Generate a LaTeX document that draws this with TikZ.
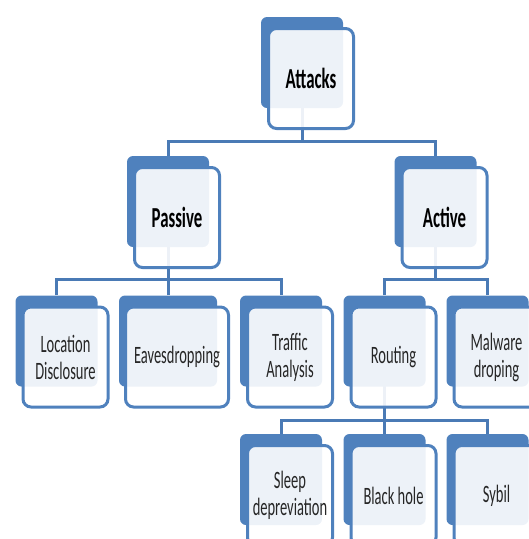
\documentclass[tikz,border=0pt]{standalone}
\usepackage{fontspec}
\newfontfamily\boxfont[FakeStretch=0.58]{Carlito}
\usetikzlibrary{positioning,backgrounds}
\definecolor{boxblue}{HTML}{4F81BD}
\definecolor{lineblue}{HTML}{4A7AB5}

\tikzset{
	backbox/.style={fill=boxblue,rounded corners=6pt,minimum width=82pt,minimum height=91pt,inner sep=0pt},
	frontbox/.style={draw=boxblue,line width=3pt,fill=white,fill opacity=0.9,text opacity=1,rounded corners=8pt,
		minimum width=85pt,minimum height=100pt,inner sep=0pt,align=center,xshift=9pt,yshift=-16pt},
	headtext/.style={font=\boxfont\bfseries\fontsize{29}{31}\selectfont},
	leaftext/.style={font=\boxfont\fontsize{25}{27}\selectfont,text=black!85},
	conn/.style={draw=lineblue,line width=3pt},
}

\begin{document}
\begin{tikzpicture}[x=1pt,y=-1pt]
	\path[use as bounding box,clip] (0,0) rectangle (529,539);

	% level 0 and 1
	\node[backbox] (att-b) at (302,62.5) {};
	\node[frontbox,headtext] (att) at (att-b) {Attacks};
	\node[backbox] (pas-b) at (168,201.5) {};
	\node[frontbox,headtext] (pas) at (pas-b) {Passive};
	\node[backbox] (act-b) at (435.5,201.5) {};
	\node[frontbox,headtext] (act) at (act-b) {Active};

	% level 2
	\node[backbox] (loc-b) at (56.5,341) {};
	\node[frontbox,leaftext] (loc) at (loc-b) {Location\\Disclosure};
	\node[backbox,minimum width=98pt] (eav-b) at (168,341) {};
	\node[frontbox,leaftext,minimum width=103pt] (eav) at (eav-b) {Eavesdropping};
	\node[backbox] (tra-b) at (281,341) {};
	\node[frontbox,leaftext] (tra) at (tra-b) {Traffic\\Analysis};
	\node[backbox] (rou-b) at (384.5,341) {};
	\node[frontbox,leaftext] (rou) at (rou-b) {Routing};
	\node[backbox] (mal-b) at (487.5,341) {};
	\node[frontbox,leaftext] (mal) at (mal-b) {Malware\\droping};

	% level 3
	\node[backbox] (sle-b) at (281,479.5) {};
	\node[frontbox,leaftext] (sle) at (sle-b) {Sleep\\depreviation};
	\node[backbox] (bla-b) at (384.5,479.5) {};
	\node[frontbox,leaftext] (bla) at (bla-b) {Black hole};
	\node[backbox] (syb-b) at (487.5,479.5) {};
	\node[frontbox,leaftext] (syb) at (syb-b) {Sybil};

	% tree lines
	\begin{scope}[on background layer]
		\coordinate (bar0) at (302,141);
		\coordinate (bar1) at (168,279);
		\coordinate (bar2) at (435.5,279);
		\coordinate (bar3) at (384.5,420);
		\draw[conn] (att-b.center) -- (bar0);
		\draw[conn] (pas-b.north) |- (bar0) -| (act-b.north);
		\draw[conn] (pas-b.center) -- (bar1);
		\draw[conn] (loc-b.north) |- (bar1) -| (tra-b.north);
		\draw[conn] (eav-b.north) -- (bar1);
		\draw[conn] (act-b.center) -- (bar2);
		\draw[conn] (rou-b.north) |- (bar2) -| (mal-b.north);
		\draw[conn] (rou-b.center) -- (bar3);
		\draw[conn] (sle-b.north) |- (bar3) -| (syb-b.north);
		\draw[conn] (bla-b.north) -- (bar3);
	\end{scope}
\end{tikzpicture}
\end{document}
